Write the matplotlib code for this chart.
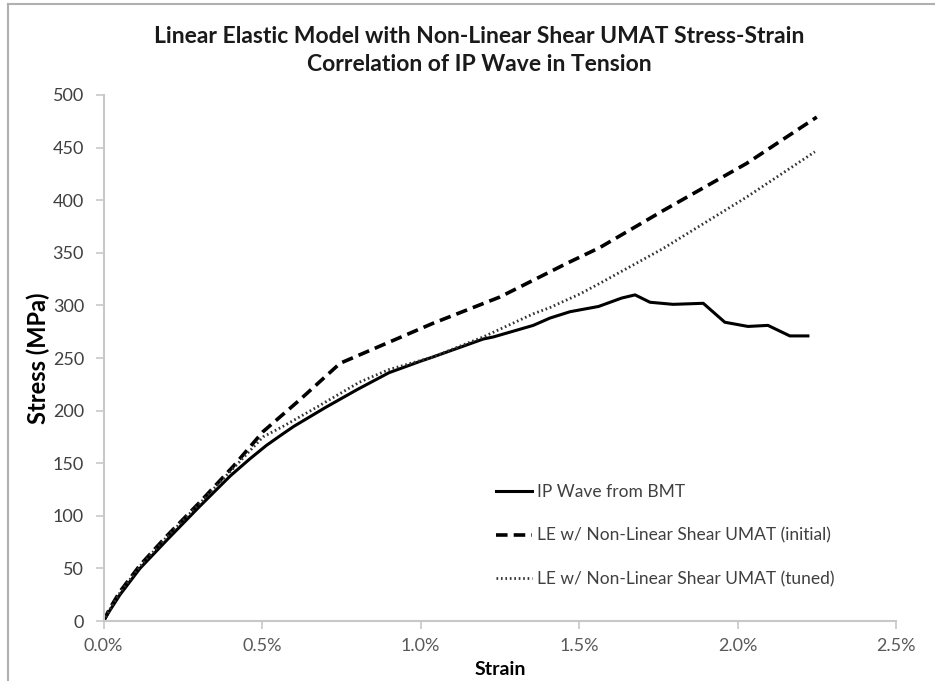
import numpy as np
import matplotlib.pyplot as plt
from matplotlib.lines import Line2D
from matplotlib.ticker import FuncFormatter

# strain in %, stress in MPa
bmt_strain = [0.0, 0.02, 0.052, 0.115, 0.2, 0.3, 0.4, 0.461, 0.514, 0.566,
              0.6, 0.7, 0.8, 0.9, 1.0, 1.039, 1.197, 1.229, 1.355, 1.408,
              1.471, 1.561, 1.634, 1.676, 1.723, 1.796, 1.891, 1.959, 2.032, 2.095,
              2.164, 2.221]
bmt_stress = [0, 10, 25, 50, 77, 108, 138, 154, 167, 178,
              185, 203, 220, 236, 247, 251, 268, 270, 281, 288,
              294, 299, 307, 310, 303, 301, 302, 284, 280, 281,
              271, 271]

init_strain = [0.0, 0.02, 0.052, 0.115, 0.2, 0.304, 0.409, 0.503, 0.618, 0.746,
               1.039, 1.25, 1.461, 1.565, 1.764, 2.028, 2.249]
init_stress = [0, 12, 28, 53, 81, 113, 147, 180, 210, 245,
               283, 308, 340, 355, 390, 435, 479]

tuned_strain = [0.0, 0.02, 0.052, 0.115, 0.2, 0.304, 0.409, 0.503, 0.566, 0.671,
                0.807, 0.9, 1.039, 1.197, 1.355, 1.408, 1.503, 1.565, 1.764, 2.028,
                2.243]
tuned_stress = [0, 11, 27, 52, 80, 112, 145, 175, 185, 203,
                227, 239, 251, 270, 292, 298, 311, 321, 354, 403,
                446]

labels = ['IP Wave from BMT', 'LE w/ Non-Linear Shear UMAT (initial)',
          'LE w/ Non-Linear Shear UMAT (tuned)']

font = ['Lato', 'DejaVu Sans']
plt.rcParams['font.family'] = font

fig = plt.figure(figsize=(9.35, 6.81), dpi=100)
ax = fig.add_axes([0.1107, 0.0881, 0.848, 0.7724])

ax.plot(bmt_strain, bmt_stress, color='black', lw=2.2, label=labels[0])
ax.plot(init_strain, init_stress, color='black', lw=2.6, dashes=(3.2, 1.7), label=labels[1])
ax.plot(tuned_strain, tuned_stress, color='#333333', lw=2.0, dashes=(0.6, 1.0), label=labels[2])

ax.set_xlim(0, 2.5)
ax.set_ylim(0, 500)
ax.set_xticks(np.arange(0, 2.51, 0.5))
ax.set_yticks(np.arange(0, 501, 50))
ax.xaxis.set_major_formatter(FuncFormatter(lambda v, p: f'{v:.1f}%'))

for s in ['top', 'right']:
    ax.spines[s].set_visible(False)
for s in ['left', 'bottom']:
    ax.spines[s].set_color('#c8c8c8')
    ax.spines[s].set_linewidth(1.5)
ax.tick_params(axis='both', direction='out', length=6, width=1.2, color='#c8c8c8', labelsize=13)
ax.tick_params(axis='y', labelcolor='#404040', pad=8)
ax.tick_params(axis='x', labelcolor='#595959', pad=6)

ax.set_xlabel('Strain', fontsize=14, fontweight='bold', labelpad=5)
ax.set_ylabel('Stress (MPa)', fontsize=17, fontweight='bold', labelpad=2)

fig.text(0.513, 0.947, 'Linear Elastic Model with Non-Linear Shear UMAT Stress-Strain',
         ha='center', va='center', fontsize=16.5, fontweight='bold', color='#1a1a1a')
fig.text(0.513, 0.9046, 'Correlation of IP Wave in Tension',
         ha='center', va='center', fontsize=16.5, fontweight='bold', color='#1a1a1a')

leg = ax.legend(loc='lower left', bbox_to_anchor=(0.475, 0.034), frameon=False,
                fontsize=12.5, handlelength=2.1, handletextpad=0.25, labelspacing=1.6,
                labelcolor='#404040')

# outer frame of the picture
fig.add_artist(Line2D([8 / 935, 8 / 935], [0, 1 - 4 / 681], color='#b0b0b0', lw=1.5))
fig.add_artist(Line2D([8 / 935, 1], [1 - 4 / 681, 1 - 4 / 681], color='#b0b0b0', lw=1.5))

fig.savefig('out.png', dpi=100)
